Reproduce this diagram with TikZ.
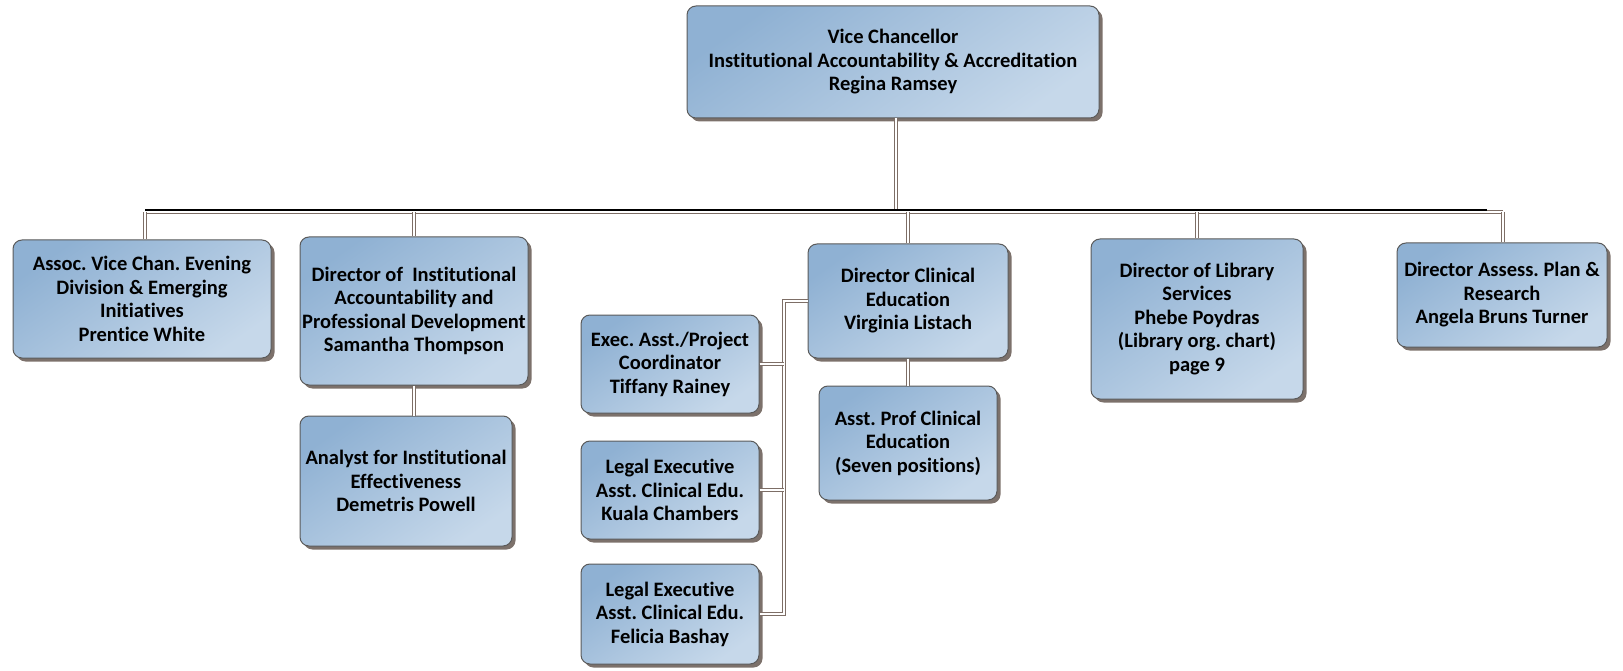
\documentclass[tikz,border=0pt]{standalone}
\usepackage{fontspec}
\setmainfont[Ligatures=NoCommon]{Carlito}
\frenchspacing
\usetikzlibrary{shadows}

\definecolor{boxdark}{HTML}{8FB1D3}
\definecolor{boxlight}{HTML}{C6D8EA}
\definecolor{boxline}{HTML}{5A5A5A}
\definecolor{shadowc}{HTML}{6E625B}
\definecolor{linkc}{HTML}{7D6E66}

\tikzset{
    orgbox/.style={draw=boxline, line width=1pt, rounded corners=9pt,
        left color=boxdark, right color=boxlight, shading angle=35,
        drop shadow={shadow xshift=3.5pt, shadow yshift=-3.5pt, fill=shadowc, opacity=0.9},
        align=center, inner sep=2pt, font=\fontsize{20.5}{23.5}\selectfont\bfseries\frenchspacing},
    link/.style={draw=linkc, line width=0.9pt, double=white, double distance=2pt}
}

\begin{document}
\begin{tikzpicture}[x=1pt,y=-1pt]
            \useasboundingbox (0,0) rectangle (1623,671);

            % top
            \node[orgbox, minimum width=412pt, minimum height=112pt] (vc) at (893,62)
                {Vice Chancellor\\Institutional Accountability \& Accreditation\\Regina Ramsey};

            % second row
            \node[orgbox, minimum width=258pt, minimum height=118pt] (assoc) at (142,299)
                {Assoc. Vice Chan. Evening\\Division \& Emerging\\Initiatives\\Prentice White};
            \node[orgbox, minimum width=228pt, minimum height=148pt] (dirinst) at (414,311)
                {Director of\ \ Institutional\\Accountability and\\Professional Development\\Samantha Thompson};
            \node[orgbox, minimum width=200pt, minimum height=114pt] (dirclin) at (908,301)
                {Director Clinical\\Education\\Virginia Listach};
            \node[orgbox, minimum width=212pt, minimum height=160pt] (library) at (1197,319)
                {Director of Library\\Services\\Phebe Poydras\\(Library org. chart)\\page 9};
            \node[orgbox, minimum width=210pt, minimum height=104pt] (assess) at (1502,295)
                {Director Assess. Plan \&\\Research\\Angela Bruns Turner};

            % third row
            \node[orgbox, minimum width=212pt, minimum height=130pt] (analyst) at (406,481)
                {Analyst for Institutional\\Effectiveness\\Demetris Powell};
            \node[orgbox, minimum width=178pt, minimum height=114pt] (asstprof) at (908,443)
                {Asst. Prof Clinical\\Education\\(Seven positions)};
            \node[orgbox, minimum width=178pt, minimum height=98pt] (exec) at (670,364)
                {Exec. Asst./Project\\Coordinator\\Tiffany Rainey};
            \node[orgbox, minimum width=178pt, minimum height=98pt] (kuala) at (670,490)
                {Legal Executive\\Asst. Clinical Edu.\\Kuala Chambers};
            \node[orgbox, minimum width=178pt, minimum height=100pt] (felicia) at (670,614)
                {Legal Executive\\Asst. Clinical Edu.\\Felicia Bashay};

            % bus line
            \coordinate (busL) at (145,212);
            \coordinate (busR) at (1503,212);
            \coordinate (brk) at (784,450);
            \draw[link] (vc.south -| 896,0) -- (896,212);
            \draw[link] (busL) -- (busR);
            \draw[line width=1.8pt] ([yshift=1.6pt]busL) -- ([xshift=-16pt,yshift=1.6pt]busR);

            % drops
            \draw[link] (busL) -- (busL |- assoc.north);
            \draw[link] (dirinst.north |- busL) -- (dirinst.north);
            \draw[link] (dirclin.north |- busL) -- (dirclin.north);
            \draw[link] (library.north |- busL) -- (library.north);
            \draw[link] (busR) -- (busR |- assess.north);

            \draw[link] (dirinst.south) -- (dirinst.south |- analyst.north);
            \draw[link] (dirclin.south) -- (dirclin.south |- asstprof.north);

            % assistants
            \draw[link] (dirclin.west) -| (brk) |- (felicia.east);
            \draw[link] (exec.east) -- (exec.east -| brk);
            \draw[link] (kuala.east) -- (kuala.east -| brk);
        \end{tikzpicture}
\end{document}
